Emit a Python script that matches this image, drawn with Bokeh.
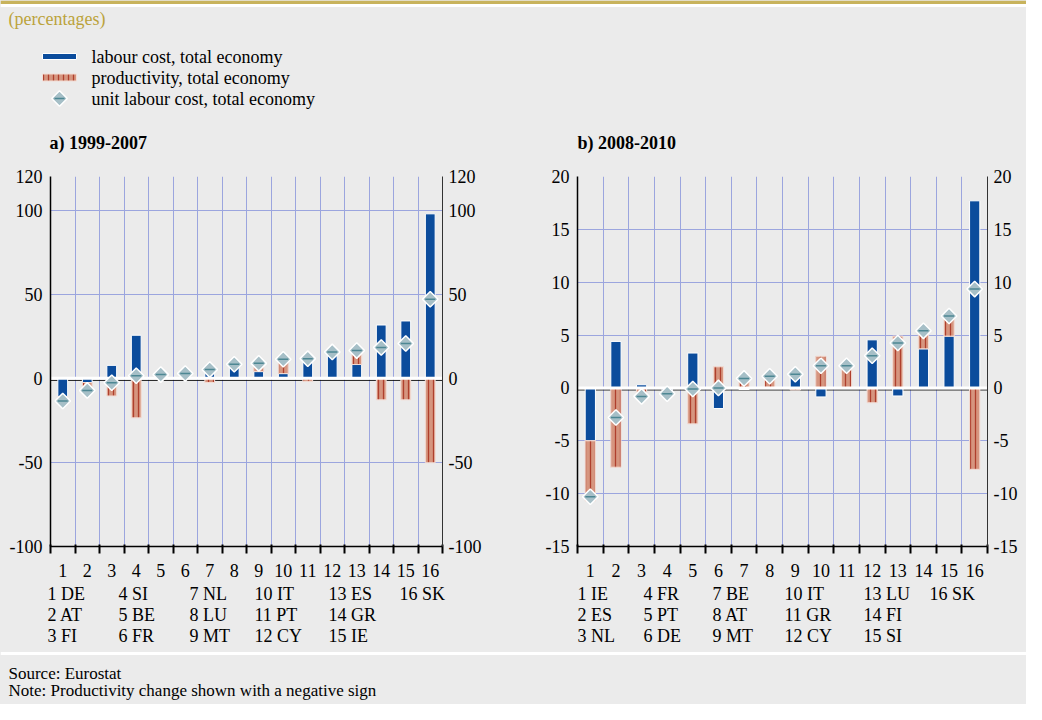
import numpy as np
from bokeh.plotting import figure
from bokeh.models import Range1d, FixedTicker, LinearAxis
from bokeh.layouts import column, row
from bokeh.embed import file_html
from bokeh.resources import INLINE
from bokeh.core.properties import value

# ---------------- data ----------------
positions = list(range(1, 17))

a_countries = ["DE", "AT", "FI", "SI", "BE", "FR", "NL", "LU", "MT", "IT", "PT", "CY", "ES", "GR", "IE", "SK"]
a_labour_cost = [-11.0, -2.5, 7.7, 25.6, 2.2, 2.9, 7.5, 8.3, 4.0, 2.8, 13.5, 15.7, 8.2, 31.7, 34.1, 97.8]
a_productivity = [-2.5, -4.5, -10.5, -23.5, 0.0, 0.0, -2.5, 0.0, 4.8, 8.4, -1.8, 0.0, 8.3, -12.8, -12.8, -50.2]
a_unit_labour_cost = [-13.5, -7.2, -2.6, 1.5, 2.2, 2.9, 5.2, 8.4, 8.9, 11.3, 11.7, 15.7, 16.5, 18.3, 20.7, 47.0]
a_yticks = [-100, -50, 0, 50, 100, 120]

b_countries = ["IE", "ES", "NL", "FR", "PT", "DE", "BE", "AT", "MT", "IT", "GR", "CY", "LU", "FI", "SI", "SK"]
b_labour_cost = [-5.0, 4.4, 0.3, -0.4, 3.3, -1.95, -0.15, 0.05, 1.5, -0.85, 0.0, 4.55, -0.76, 3.7, 4.9, 17.7]
b_productivity = [-5.7, -7.5, -1.1, -0.15, -3.4, 2.0, 1.05, 1.1, -0.2, 3.0, 2.1, -1.4, 4.9, 1.7, 1.9, -7.7]
b_unit_labour_cost = [-10.3, -2.8, -0.8, -0.55, -0.1, 0.0, 0.9, 1.1, 1.3, 2.1, 2.1, 3.05, 4.25, 5.4, 6.8, 9.35]
b_yticks = [-15, -10, -5, 0, 5, 10, 15, 20]

legend_labels = ["labour cost, total economy", "productivity, total economy", "unit labour cost, total economy"]
panel_titles = ["a) 1999-2007", "b) 2008-2010"]

# ---------------- style ----------------
BG = "#ebebeb"
BLUE = "#0b4c9c"
RED = "#d6957f"
STRIPE = "#a8301f"
DIAM = "#a6bfc7"
DASH = "#4d8793"
GRID = "#9ba5de"
GOLD = "#c8b35c"
GOLD_TEXT = "#bba33c"
FONT = "Liberation Serif"


def style_blank(p):
    p.background_fill_color = BG
    p.border_fill_color = BG
    p.outline_line_color = None
    p.xaxis.visible = False
    p.yaxis.visible = False
    p.grid.visible = False


def add_diamonds(p, xs, ys, size=11):
    p.scatter(xs, ys, marker="square", angle=np.pi / 4, size=size,
              fill_color=DIAM, line_color="white", line_width=1.5)
    p.scatter(xs, ys, marker="dash", size=size - 1, line_color=DASH, line_width=1.5)


def style_yaxis(ax, ticks, standoff, color):
    ax.ticker = FixedTicker(ticks=ticks)
    ax.major_label_overrides = {t: str(t) for t in ticks}
    ax.major_tick_in = 0
    ax.major_tick_out = 0
    ax.minor_tick_line_color = None
    ax.axis_line_color = color
    ax.major_label_standoff = standoff
    ax.major_label_text_font = FONT
    ax.major_label_text_font_size = "18px"
    ax.major_label_text_color = "black"


def panel(labour, prod, ulc, yr, yticks, width, bl, br):
    bt, bb, height = 10, 36, 416
    fh = height - bt - bb
    p = figure(width=width, height=height, x_range=Range1d(0.5, 16.5), y_range=Range1d(*yr),
               output_backend="svg", toolbar_location=None,
               min_border_left=bl, min_border_right=br, min_border_top=bt, min_border_bottom=bb)
    p.background_fill_color = BG
    p.border_fill_color = BG
    p.outline_line_color = None

    lab = np.array(labour, dtype=float)
    pr = np.array(prod, dtype=float)
    same = (np.sign(lab) == np.sign(pr)) & (lab != 0)
    red_bottom = np.where(same, lab, 0.0)
    red_top = red_bottom + pr

    # thin dark companion of the zero line, just below the white one
    off = (yr[1] - yr[0]) / fh * 2.0
    p.line([0.5, 16.5], [-off, -off], line_color="black", line_width=1)

    p.vbar(x=positions, bottom=0, top=lab, width=0.4, fill_color=BLUE, line_color="white", line_width=1)
    p.vbar(x=positions, bottom=red_bottom, top=red_top, width=0.4, fill_color=RED,
           line_color="#f3dcd4", line_width=1,
           hatch_pattern="|", hatch_color=STRIPE, hatch_scale=5, hatch_weight=1.3, hatch_alpha=0.85)
    p.line([0.5, 16.5], [0, 0], line_color="white", line_width=3)
    add_diamonds(p, positions, ulc)

    boundaries = [0.5 + i for i in range(17)]
    p.xgrid.ticker = FixedTicker(ticks=boundaries)
    p.ygrid.ticker = FixedTicker(ticks=yticks)
    p.grid.grid_line_color = GRID
    p.grid.grid_line_width = 1

    xa = p.xaxis[0]
    xa.ticker = FixedTicker(ticks=positions, minor_ticks=boundaries)
    xa.major_tick_in = 0
    xa.major_tick_out = 0
    xa.minor_tick_in = 2
    xa.minor_tick_out = 7
    xa.minor_tick_line_color = "black"
    xa.minor_tick_line_width = 2
    xa.axis_line_color = "black"
    xa.axis_line_width = 1.5
    xa.major_label_standoff = 10
    xa.major_label_text_font = FONT
    xa.major_label_text_font_size = "18px"
    xa.major_label_text_color = "black"

    ya = p.yaxis[0]
    style_yaxis(ya, yticks, 8, "black")
    ya.axis_line_width = 1.5

    ra = LinearAxis()
    style_yaxis(ra, yticks, 6, "#333333")
    p.add_layout(ra, "right")
    return p


# ---------------- header ----------------
header = figure(width=1026, height=166, x_range=Range1d(0, 1026), y_range=Range1d(166, 0),
                output_backend="svg", toolbar_location=None, min_border=0)
style_blank(header)
header.quad(left=[0], right=[1026], top=[0], bottom=[3.5], fill_color=GOLD, line_color=None)
header.quad(left=[0], right=[1026], top=[3.5], bottom=[6.5], fill_color="white", line_color=None)
header.text(x=[8], y=[18], text=["(percentages)"], text_font=value(FONT), text_font_size="18px",
            text_color=GOLD_TEXT, text_baseline="middle", text_align="left")
# legend
header.rect(x=[59], y=[56], width=34, height=6, width_units="screen", height_units="screen",
            fill_color=BLUE, line_color="white", line_width=1)
header.rect(x=[59], y=[77], width=34, height=7, width_units="screen", height_units="screen",
            fill_color=RED, line_color="#f3dcd4", line_width=1,
            hatch_pattern="|", hatch_color=STRIPE, hatch_scale=5, hatch_weight=1.3, hatch_alpha=0.85)
add_diamonds(header, [59], [98])
header.text(x=[91, 91, 91], y=[56, 77, 98], text=legend_labels, text_font=value(FONT),
            text_font_size="18px", text_color="black", text_baseline="middle", text_align="left")
header.text(x=[49, 577], y=[142, 142], text=panel_titles, text_font=value(FONT),
            text_font_size="18px", text_font_style="bold", text_color="black",
            text_baseline="middle", text_align="left")

# ---------------- panels ----------------
pa = panel(a_labour_cost, a_productivity, a_unit_labour_cost, (-100, 120), a_yticks, 512, 50, 70)
pb = panel(b_labour_cost, b_productivity, b_unit_labour_cost, (-15, 20), b_yticks, 514, 65, 39)

# ---------------- footer ----------------
footer = figure(width=1026, height=122, x_range=Range1d(0, 1026), y_range=Range1d(704, 582),
                output_backend="svg", toolbar_location=None, min_border=0)
style_blank(footer)

col_a = [47, 118, 189, 254, 328, 399]
col_b = [577, 643, 712, 784, 863, 929]
row_y = [593, 614, 635]
xs, ys, ts = [], [], []
for cols, names in ((col_a, a_countries), (col_b, b_countries)):
    for i, c in enumerate(names):
        xs.append(cols[i // 3])
        ys.append(row_y[i % 3])
        ts.append(f"{i + 1} {c}")
footer.text(x=xs, y=ys, text=ts, text_font=value(FONT), text_font_size="18px", text_color="black",
            text_baseline="middle", text_align="left")
footer.line([0, 1026], [653, 653], line_color="white", line_width=3)
footer.text(x=[8, 8], y=[673, 690], text=["Source: Eurostat", "Note: Productivity change shown with a negative sign"],
            text_font=value(FONT), text_font_size="17px", text_color="black",
            text_baseline="middle", text_align="left")

layout = column(header, row(pa, pb, spacing=0), footer, spacing=0)
layout.styles = {"background-color": BG}

open("out.html", "w").write(file_html(layout, INLINE))
